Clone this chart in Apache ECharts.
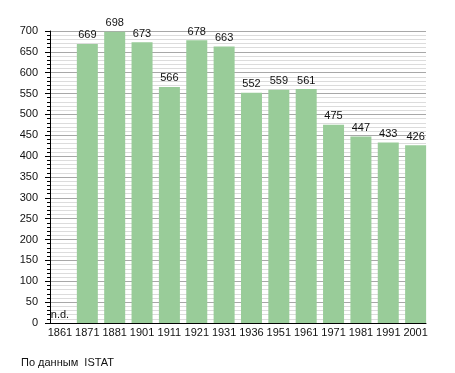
<!DOCTYPE html>
<html>
<head>
<meta charset="utf-8">
<script src="https://cdn.jsdelivr.net/npm/echarts@6/dist/echarts.min.js"></script>
<style>
html,body{margin:0;padding:0;background:#fff;}
#chart{width:455px;height:373px;}
</style>
</head>
<body>
<div id="chart"></div>
<script>
var categories = ['1861','1871','1881','1901','1911','1921','1931','1936','1951','1961','1971','1981','1991','2001'];
var values = [null,669,698,673,566,678,663,552,559,561,475,447,433,426];
var yMax = 700;
var yInterval = 50;
var sourceText = 'По данным  ISTAT';
var missingText = 'n.d.';

var FONT = '"Liberation Sans", Arial, sans-serif';

var barData = values.map(function(v){
  if (v === null) {
    return {value: 0, label: {show: true, formatter: missingText}};
  }
  return {value: v};
});

var chart = echarts.init(document.getElementById('chart'), null, {renderer: 'canvas'});
chart.setOption({
  animation: false,
  backgroundColor: '#ffffff',
  textStyle: {fontFamily: FONT},
  grid: [
    {left: 50, top: 31, width: 376, height: 292, containLabel: false},
    {left: 46.3, top: 31, width: 383, height: 292, containLabel: false}
  ],
  xAxis: [
    {
      gridIndex: 0, type: 'category', data: categories, z: 5,
      axisLine: {show: true, lineStyle: {color: '#000', width: 1}},
      axisTick: {show: false}, axisLabel: {show: false}, splitLine: {show: false}
    },
    {
      gridIndex: 1, type: 'category', data: categories,
      axisLine: {show: false}, axisTick: {show: false}, splitLine: {show: false},
      axisLabel: {show: true, interval: 0, margin: 4, fontSize: 11, color: '#111', fontFamily: FONT}
    }
  ],
  yAxis: [
    {
      gridIndex: 0, type: 'value', min: 0, max: yMax, interval: yInterval,
      axisLine: {show: true, lineStyle: {color: '#000', width: 1}},
      axisTick: {show: true, length: 5, lineStyle: {color: '#000'}},
      minorTick: {show: true, splitNumber: 5, length: 3, lineStyle: {color: '#000'}},
      axisLabel: {show: true, margin: 12, fontSize: 11, color: '#111', fontFamily: FONT},
      splitLine: {show: true, lineStyle: {color: '#a8a8a8', width: 1}},
      minorSplitLine: {show: true, lineStyle: {color: '#dcdcdc', width: 1}}
    },
    {
      gridIndex: 1, type: 'value', min: 0, max: yMax, interval: yInterval, show: false,
      splitLine: {show: false}
    }
  ],
  series: [
    {
      type: 'bar', xAxisIndex: 1, yAxisIndex: 1, data: barData, barWidth: 21,
      itemStyle: {color: '#99cc99'},
      label: {show: true, position: 'top', distance: 3, fontSize: 11, color: '#111', fontFamily: FONT}
    }
  ],
  graphic: [
    {type: 'text', left: 21, top: 357, style: {text: sourceText, font: '11px ' + FONT, fill: '#111'}}
  ]
});
</script>
</body>
</html>
